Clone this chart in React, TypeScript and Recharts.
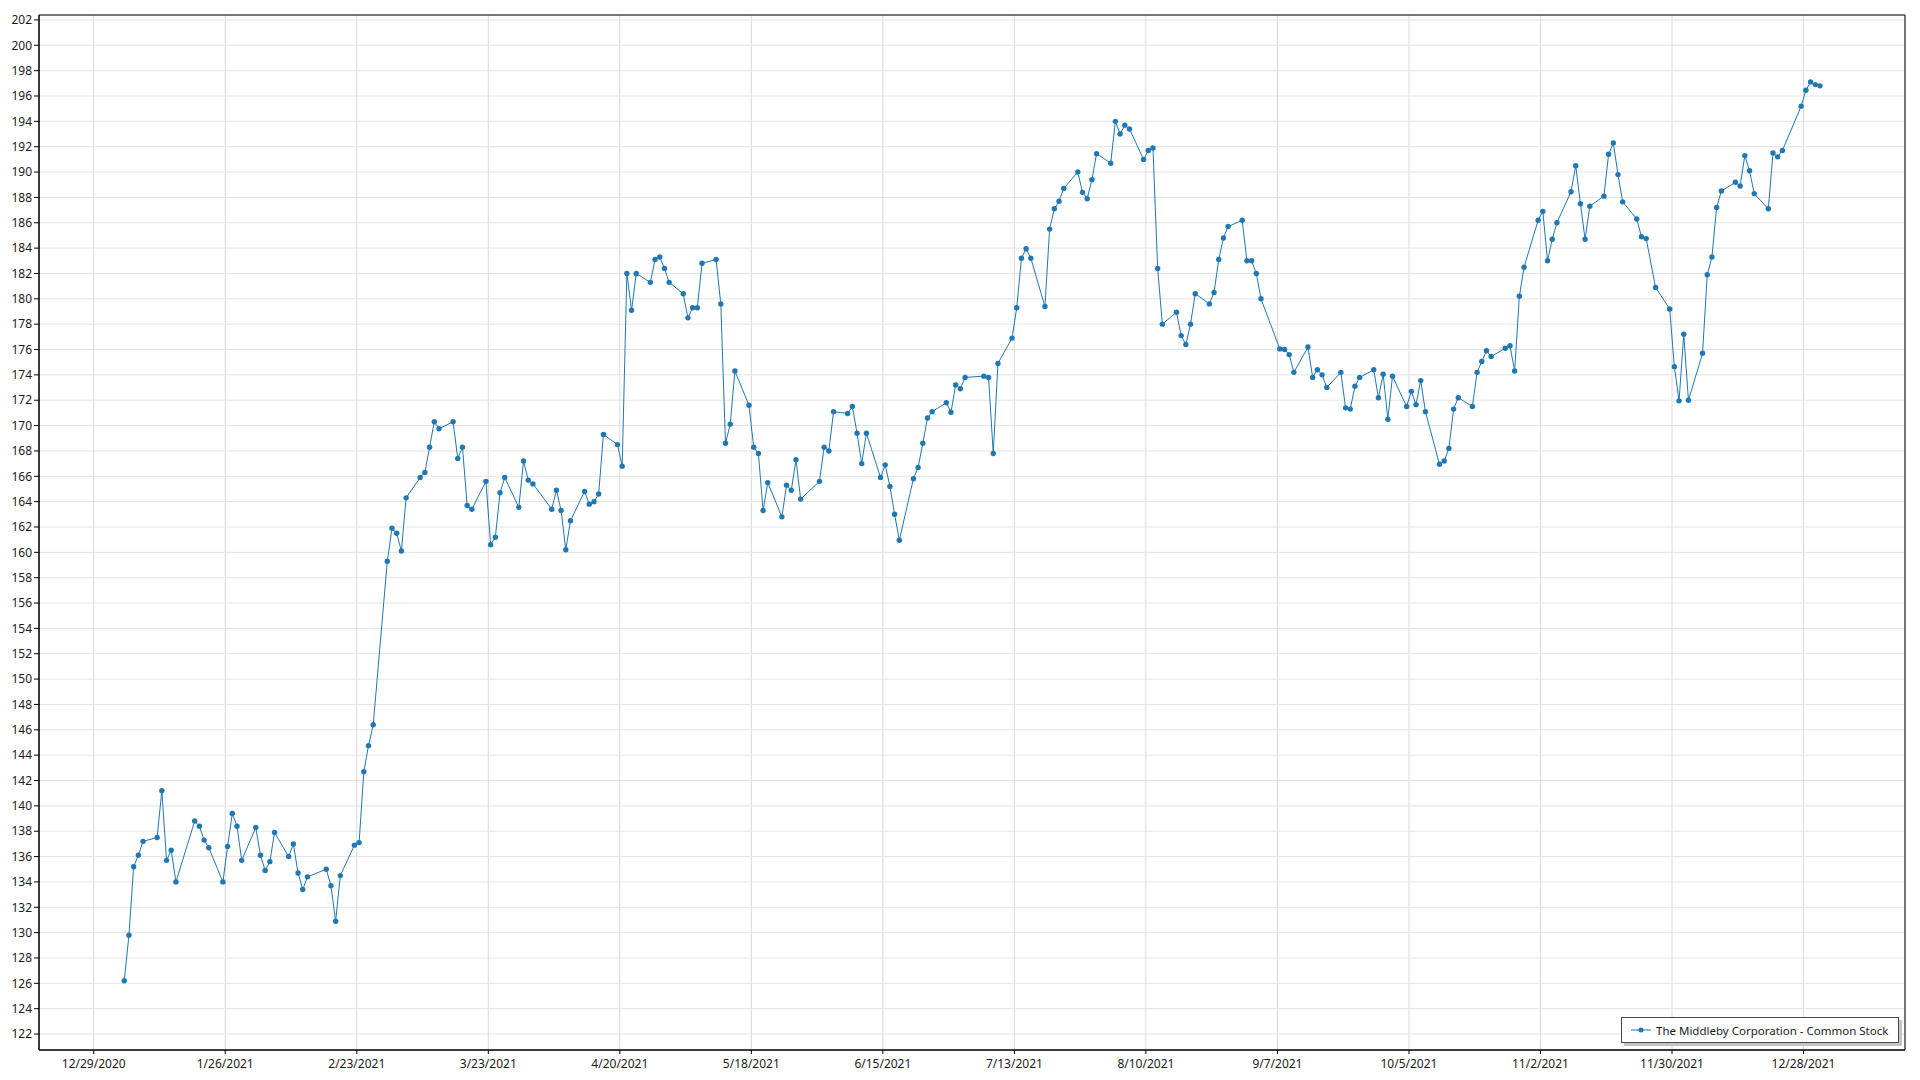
import { LineChart, Line, XAxis, YAxis, CartesianGrid, Legend, ReferenceArea } from 'recharts';

const SERIES_NAME = 'The Middleby Corporation - Common Stock';
const COLOR = '#1f77b4';
const FONT = "'Segoe UI', 'Noto Sans', 'Open Sans', sans-serif";

// 2021 trading days per month and the close
const janDays = [4, 5, 6, 7, 8, 11, 12, 13, 14, 15, 19, 20, 21, 22, 25, 26, 27, 28, 29];
const janClose = [126.2, 129.8, 135.2, 136.1, 137.2, 137.5, 141.2, 135.7, 136.5, 134.0, 138.8, 138.4, 137.3, 136.7, 134.0, 136.8, 139.4, 138.4, 135.7];

const febDays = [1, 2, 3, 4, 5, 8, 9, 10, 11, 12, 16, 17, 18, 19, 22, 23, 24, 25, 26];
const febClose = [138.3, 136.1, 134.9, 135.6, 137.9, 136.0, 137.0, 134.7, 133.4, 134.4, 135.0, 133.7, 130.9, 134.5, 136.9, 137.1, 142.7, 144.75, 146.4];

const marDays = [1, 2, 3, 4, 5, 8, 9, 10, 11, 12, 15, 16, 17, 18, 19, 22, 23, 24, 25, 26, 29, 30, 31];
const marClose = [159.3, 161.9, 161.5, 160.1, 164.3, 165.9, 166.3, 168.3, 170.3, 169.75, 170.3, 167.4, 168.3, 163.7, 163.4, 165.6, 160.6, 161.2, 164.7, 165.9, 163.55, 167.2, 165.7];

const aprDays = [1, 5, 6, 7, 8, 9, 12, 13, 14, 15, 16, 19, 20, 21, 22, 23, 26, 27, 28, 29, 30];
const aprClose = [165.4, 163.4, 164.9, 163.3, 160.2, 162.5, 164.8, 163.8, 164.0, 164.6, 169.3, 168.5, 166.8, 182.0, 179.1, 182.0, 181.3, 183.1, 183.3, 182.4, 181.3];

const mayDays = [3, 4, 5, 6, 7, 10, 11, 12, 13, 14, 17, 18, 19, 20, 21, 24, 25, 26, 27, 28];
const mayClose = [180.4, 178.5, 179.3, 179.3, 182.8, 183.1, 179.6, 168.6, 170.1, 174.3, 171.6, 168.3, 167.8, 163.3, 165.5, 162.8, 165.3, 164.9, 167.3, 164.2];

const junDays = [1, 2, 3, 4, 7, 8, 9, 10, 11, 14, 15, 16, 17, 18, 21, 22, 23, 24, 25, 28, 29, 30];
const junClose = [165.6, 168.3, 168.0, 171.1, 170.95, 171.5, 169.4, 167.0, 169.4, 165.9, 166.9, 165.2, 163.0, 160.95, 165.8, 166.7, 168.6, 170.6, 171.1, 171.8, 171.05, 173.2];

const julDays = [1, 2, 6, 7, 8, 9, 12, 13, 14, 15, 16, 19, 20, 21, 22, 23, 26, 27, 28, 29, 30];
const julClose = [172.9, 173.8, 173.9, 173.8, 167.8, 174.9, 176.9, 179.3, 183.2, 183.95, 183.2, 179.4, 185.5, 187.1, 187.7, 188.7, 190.0, 188.4, 187.9, 189.4, 191.45];

const augDays = [2, 3, 4, 5, 6, 9, 10, 11, 12, 13, 16, 17, 18, 19, 20, 23, 24, 25, 26, 27, 30, 31];
const augClose = [190.7, 194.0, 193.0, 193.7, 193.4, 191.0, 191.7, 191.9, 182.4, 178.0, 178.95, 177.1, 176.4, 178.0, 180.4, 179.6, 180.5, 183.1, 184.8, 185.7, 186.2, 183.0];

const sepDays = [1, 2, 3, 7, 8, 9, 10, 13, 14, 15, 16, 17, 20, 21, 22, 23, 24, 27, 28, 29, 30];
const sepClose = [183.0, 182.0, 180.0, 176.05, 176.0, 175.6, 174.2, 176.2, 173.8, 174.4, 174.0, 173.0, 174.2, 171.4, 171.3, 173.1, 173.8, 174.4, 172.2, 174.05, 170.5];

const octDays = [1, 4, 5, 6, 7, 8, 11, 12, 13, 14, 15, 18, 19, 20, 21, 22, 25, 26, 27, 28, 29];
const octClose = [173.9, 171.5, 172.7, 171.65, 173.55, 171.1, 166.95, 167.2, 168.2, 171.3, 172.2, 171.5, 174.2, 175.05, 175.9, 175.45, 176.1, 176.3, 174.3, 180.2, 182.5];

const novDays = [1, 2, 3, 4, 5, 8, 9, 10, 11, 12, 15, 16, 17, 18, 19, 22, 23, 24, 26, 29, 30];
const novClose = [186.2, 186.9, 183.0, 184.7, 186.0, 188.45, 190.5, 187.5, 184.7, 187.3, 188.1, 191.4, 192.3, 189.8, 187.65, 186.3, 184.9, 184.75, 180.9, 179.2, 174.65];

const decDays = [1, 2, 3, 6, 7, 8, 9, 10, 13, 14, 15, 16, 17, 20, 21, 22, 23, 27, 28, 29, 30, 31];
const decClose = [171.95, 177.2, 172.0, 175.7, 181.9, 183.3, 187.2, 188.5, 189.2, 188.9, 191.3, 190.1, 188.3, 187.1, 191.5, 191.2, 191.7, 195.2, 196.45, 197.1, 196.9, 196.8];

const xTickLabels = [
  '12/29/2020', '1/26/2021', '2/23/2021', '3/23/2021', '4/20/2021', '5/18/2021', '6/15/2021',
  '7/13/2021', '8/10/2021', '9/7/2021', '10/5/2021', '11/2/2021', '11/30/2021', '12/28/2021',
];

const yTicks = [
  122, 124, 126, 128, 130, 132, 134, 136, 138, 140, 142, 144, 146, 148, 150, 152, 154, 156, 158, 160, 162,
  164, 166, 168, 170, 172, 174, 176, 178, 180, 182, 184, 186, 188, 190, 192, 194, 196, 198, 200, 202,
];

const DAY = 24 * 3600 * 1000;

const months = [
  [janDays, janClose], [febDays, febClose], [marDays, marClose], [aprDays, aprClose],
  [mayDays, mayClose], [junDays, junClose], [julDays, julClose], [augDays, augClose],
  [sepDays, sepClose], [octDays, octClose], [novDays, novClose], [decDays, decClose],
];

const data = months.flatMap(([days, close], m) =>
  days.map((d, i) => ({ t: Date.UTC(2021, m, d, 12), close: close[i] }))
);

const parseDate = (s: string) => {
  const [mm, dd, yy] = s.split('/').map(Number);
  return Date.UTC(yy, mm - 1, dd);
};
const xTicks = xTickLabels.map(parseDate);
const fmtDate = (t: number) => {
  const d = new Date(t);
  return `${d.getUTCMonth() + 1}/${d.getUTCDate()}/${d.getUTCFullYear()}`;
};

const xMin = xTicks[0] - 11.65 * DAY;
const xMax = xTicks[0] + 385.6 * DAY;
const yMin = 120.74;
const yMax = 202.39;

// minor ticks every 0.4 on the value axis
const minorTicks: number[] = [];
for (let v = 120.8; v < yMax; v += 0.4) minorTicks.push(Math.round(v * 10) / 10);

const renderLegend = (props: any) => {
  const item = props.payload && props.payload[0];
  return (
    <div
      style={{
        boxSizing: 'border-box',
        width: 278,
        height: 26,
        display: 'flex',
        alignItems: 'center',
        paddingLeft: 9,
        border: '1px solid #4a4a4a',
        background: '#fff',
        boxShadow: '3px 3px 0 #c4c4c4',
        fontFamily: FONT,
        fontSize: 11.5,
        color: '#1a1a1a',
        whiteSpace: 'nowrap',
      }}
    >
      <svg width={20} height={6} style={{ marginRight: 5 }}>
        <line x1={0} y1={3} x2={20} y2={3} stroke={COLOR} strokeWidth={1} />
        <circle cx={10} cy={3} r={2.5} fill={COLOR} />
      </svg>
      <span>{item ? item.value : SERIES_NAME}</span>
    </div>
  );
};

export default function App() {
  return (
    <div style={{ position: 'absolute', left: 0, top: 0, width: 1920, height: 1080, background: '#fff' }}>
      <LineChart width={1920} height={1080} data={data} margin={{ top: 15, right: 15, bottom: 0, left: 0 }}>
        <CartesianGrid horizontal={false} stroke="#dadada" />
        <CartesianGrid vertical={false} stroke="#e3e3e3" />
        <XAxis
          dataKey="t"
          type="number"
          domain={[xMin, xMax]}
          allowDataOverflow
          ticks={xTicks}
          interval={0}
          tickFormatter={fmtDate}
          height={30}
          tickSize={4}
          tickMargin={5}
          axisLine={{ stroke: '#000' }}
          tickLine={{ stroke: '#000' }}
          tick={{ fill: '#1a1a1a', fontSize: 12, fontFamily: FONT }}
        />
        <YAxis
          type="number"
          domain={[yMin, yMax]}
          allowDataOverflow
          ticks={yTicks}
          interval={0}
          width={39}
          tickSize={5}
          tickMargin={2}
          axisLine={{ stroke: '#000' }}
          tickLine={{ stroke: '#000' }}
          tick={{ fill: '#1a1a1a', fontSize: 12, fontFamily: FONT }}
        />
        <YAxis
          yAxisId="minor"
          type="number"
          domain={[yMin, yMax]}
          allowDataOverflow
          ticks={minorTicks}
          interval={0}
          width={0}
          tickSize={3}
          axisLine={false}
          tickLine={{ stroke: '#000' }}
          tick={() => null}
        />
        <ReferenceArea x1={xMin} x2={xMax} y1={yMin} y2={yMax} fill="none" stroke="#000" strokeWidth={1} ifOverflow="visible" />
        <Line
          type="linear"
          dataKey="close"
          name={SERIES_NAME}
          stroke={COLOR}
          strokeWidth={1}
          dot={{ r: 2.7, fill: COLOR, stroke: COLOR, strokeWidth: 0 }}
          activeDot={false}
          isAnimationActive={false}
        />
        <Legend
          layout="horizontal"
          align="center"
          verticalAlign="middle"
          content={renderLegend}
          wrapperStyle={{ position: 'absolute', left: 1621, top: 1017, width: 278, height: 26 }}
        />
      </LineChart>
    </div>
  );
}
